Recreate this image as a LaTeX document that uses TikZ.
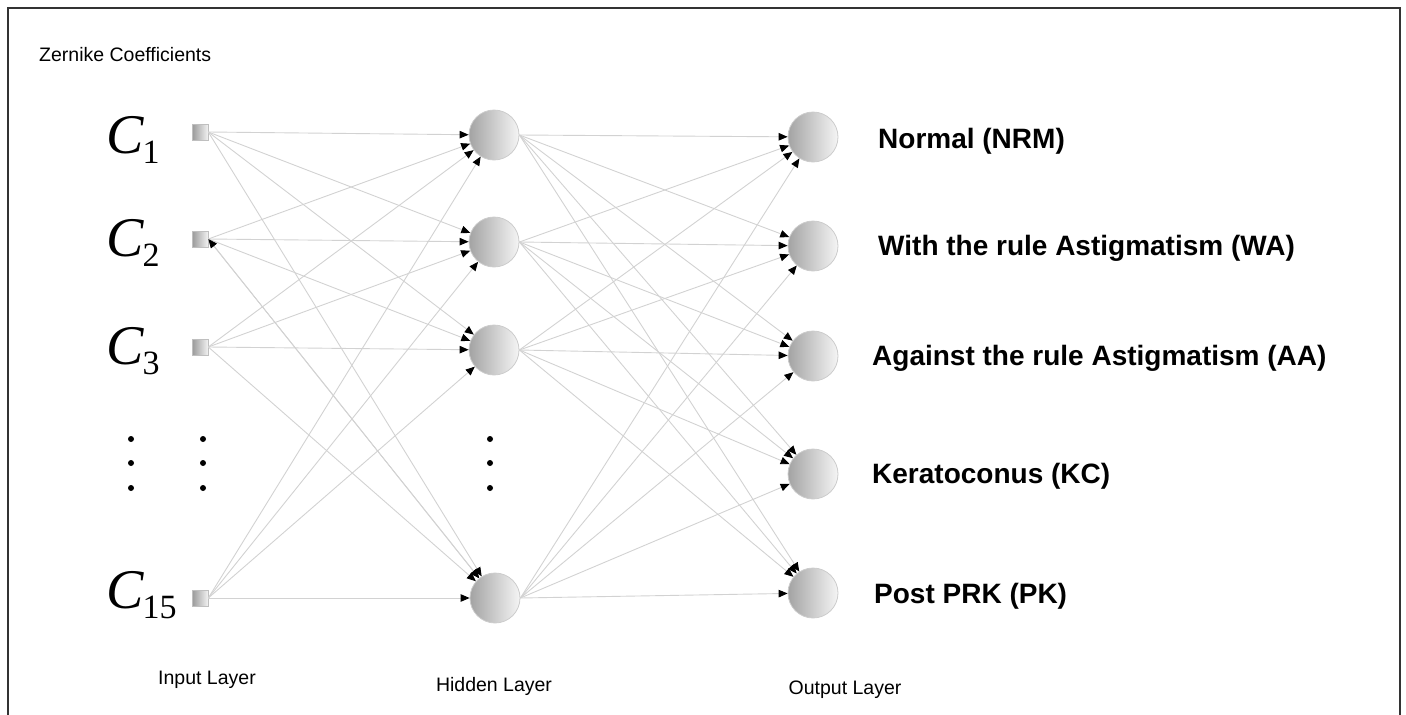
\documentclass[tikz,border=0pt]{standalone}
\usepackage{fontspec}
\setmainfont{Liberation Sans}
\newfontfamily\coeffont{Liberation Serif}
\usetikzlibrary{arrows.meta}

\newcommand{\coef}[1]{{\fontsize{56}{56}\selectfont\coeffont\itshape C}\kern-1pt\raisebox{-10pt}{\fontsize{34}{34}\selectfont\coeffont #1}}

\tikzset{
  neuron/.style={circle, minimum size=50pt, inner sep=0pt, draw=gray!40, line width=0.8pt, left color=gray!72, right color=gray!8},
  inbox/.style={rectangle, minimum size=16pt, inner sep=0pt, draw=gray!50, line width=0.6pt, left color=gray!80, right color=gray!10},
  link/.style={draw=gray!35, line width=0.9pt, -{Triangle[length=9pt,width=7.5pt,color=black]}},
  classlabel/.style={anchor=west, inner sep=0pt, font=\fontsize{28}{32}\selectfont\bfseries},
  layerlabel/.style={inner sep=0pt, font=\fontsize{19.5}{23}\selectfont},
  vdot/.style={circle, fill=black, inner sep=0pt, minimum size=6pt},
}

\begin{document}
\begin{tikzpicture}[x=1pt, y=-1pt]
    \useasboundingbox (0,0) rectangle (1406,715);
    % Cornice
    \draw[line width=2pt, black!80] (8,715) -- (8,8) -- (1400,8) -- (1400,715);
    \node[layerlabel, anchor=west] (title) at (39,55) {Zernike Coefficients};

    % Strato di ingresso
    \node[inbox] (in1) at (200,132) {};
    \node[inbox] (in2) at (200,239) {};
    \node[inbox] (in3) at (200,347) {};
    \node[inbox] (in4) at (200,598) {};
    \node[anchor=base west, inner sep=0pt] (c1) at (106,153) {\coef{1}};
    \node[anchor=base west, inner sep=0pt] (c2) at (106,256) {\coef{2}};
    \node[anchor=base west, inner sep=0pt] (c3) at (106,364) {\coef{3}};
    \node[anchor=base west, inner sep=0pt] (c15) at (106,608) {\coef{15}};

    % Strato nascosto
    \node[neuron] (hid1) at (494,135) {};
    \node[neuron] (hid2) at (494,242) {};
    \node[neuron] (hid3) at (494,350) {};
    \node[neuron] (hid4) at (495,598) {};

    % Strato di uscita
    \node[neuron] (out1) at (813,137) {};
    \node[neuron] (out2) at (813,246) {};
    \node[neuron] (out3) at (813,356) {};
    \node[neuron] (out4) at (813,474) {};
    \node[neuron] (out5) at (813,593) {};
    \node[classlabel] (nrm) at (878,141) {Normal (NRM)};
    \node[classlabel] (wa) at (878,248) {With the rule Astigmatism (WA)};
    \node[classlabel] (aa) at (872,358) {Against the rule Astigmatism (AA)};
    \node[classlabel] (kc) at (872,476) {Keratoconus (KC)};
    \node[classlabel] (pk) at (874,596) {Post PRK (PK)};

    % Puntini
    \foreach \x/\n in {131/a, 203/b, 490/c}
        \foreach \y/\k in {439/1, 463/2, 488/3}
            \node[vdot] (dot\n\k) at (\x,\y) {};

    % Collegamenti
    \foreach \i in {1,...,4}
        \foreach \j in {1,...,4}
            \draw[link] (in\i.east) -- (hid\j);
    \foreach \i in {1,...,4}
        \foreach \j in {1,...,5}
            \draw[link] (hid\i.east) -- (out\j);
    \draw[link, {Triangle[length=9pt,width=7.5pt,color=black]}-{Triangle[length=9pt,width=7.5pt,color=black]}] (in2.east) -- (hid4);

    % Etichette degli strati
    \node[layerlabel] (inlab) at (207,680) {Input Layer};
    \node[layerlabel] (hidlab) at (494,686) {Hidden Layer};
    \node[layerlabel] (outlab) at (845,690) {Output Layer};
\end{tikzpicture}
\end{document}
